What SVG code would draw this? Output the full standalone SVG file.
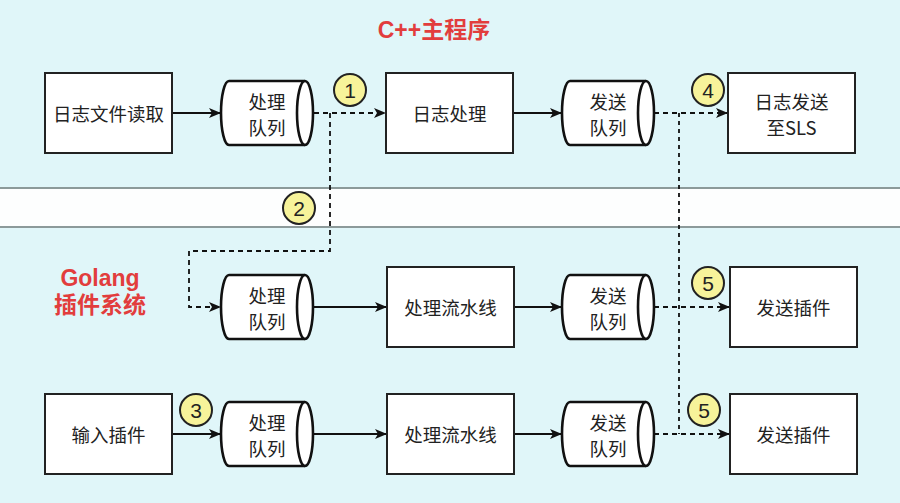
<svg xmlns="http://www.w3.org/2000/svg" width="900" height="503" viewBox="0 0 900 503">
<defs>
<style>
.box{fill:#fff;stroke:#222;stroke-width:2}
.cyl{fill:#fff;stroke:#111;stroke-width:2.6}
.t{font-family:"Noto Sans CJK SC","Liberation Sans",sans-serif;font-size:18.5px;fill:#222;text-anchor:middle;dominant-baseline:central}
.red{font-family:"Liberation Sans","Noto Sans CJK SC",sans-serif;font-weight:bold;font-size:23px;fill:#e23d3d;text-anchor:middle;dominant-baseline:central}
.c{fill:#f7f39a;stroke:#222;stroke-width:2}
.n{font-family:"Liberation Sans",Arial,sans-serif;font-size:21px;fill:#222;text-anchor:middle;dominant-baseline:central}
.solid{fill:none;stroke:#111;stroke-width:1.8}
.dash{fill:none;stroke:#111;stroke-width:1.8;stroke-dasharray:5 4}
.dot{fill:none;stroke:#111;stroke-width:1.8;stroke-dasharray:4 4}
</style>
<marker id="ah" viewBox="0 0 12 10" refX="11" refY="5" markerWidth="12" markerHeight="10" markerUnits="userSpaceOnUse" orient="auto">
<path d="M0,0 L12,5 L0,10 L3,5 Z" fill="#111"/>
</marker>
</defs>
<rect width="900" height="503" fill="#e0f6f9"/>
<rect x="0" y="188" width="900" height="39" fill="#fdfefe"/>
<line x1="0" y1="188" x2="900" y2="188" stroke="#8c9a9a" stroke-width="2"/>
<line x1="0" y1="227" x2="900" y2="227" stroke="#8c9a9a" stroke-width="2"/>

<text class="red" x="434" y="30">C++主程序</text>
<text class="red" x="100" y="278">Golang</text>
<text class="red" x="100" y="305">插件系统</text>

<g id="connectors">
<line class="solid" x1="172" y1="113" x2="220" y2="113" marker-end="url(#ah)"/>
<line class="dash" x1="314" y1="113" x2="385" y2="113" marker-end="url(#ah)"/>
<line class="solid" x1="513" y1="113" x2="561" y2="113" marker-end="url(#ah)"/>
<line class="dash" x1="654" y1="113" x2="727" y2="113" marker-end="url(#ah)"/>
<polyline class="dash" points="330,113 330,251 189,251 189,307 220,307" marker-end="url(#ah)"/>
<line class="solid" x1="314" y1="307" x2="386" y2="307" marker-end="url(#ah)"/>
<line class="solid" x1="514" y1="307" x2="561" y2="307" marker-end="url(#ah)"/>
<line class="dash" x1="654" y1="307" x2="729" y2="307" marker-end="url(#ah)"/>
<line class="solid" x1="172" y1="434" x2="220" y2="434" marker-end="url(#ah)"/>
<line class="solid" x1="314" y1="434" x2="386" y2="434" marker-end="url(#ah)"/>
<line class="solid" x1="514" y1="434" x2="561" y2="434" marker-end="url(#ah)"/>
<line class="dash" x1="654" y1="434" x2="729" y2="434" marker-end="url(#ah)"/>
<line class="dot" x1="679" y1="113" x2="679" y2="434"/>
</g>

<g id="n-read"><rect class="box" x="45" y="73" width="127" height="80"/><text class="t" x="108.5" y="113">日志文件读取</text></g>
<g id="q-proc1"><path class="cyl" d="M229,81 H305 A8,32 0 0 1 305,145 H229 A8,32 0 0 1 229,81 Z"/><path class="cyl" d="M305,81 A8,32 0 0 0 305,145"/><text class="t" x="267" y="101">处理</text><text class="t" x="267" y="127">队列</text></g>
<g id="n-proc"><rect class="box" x="386" y="73" width="127" height="80"/><text class="t" x="449.5" y="113">日志处理</text></g>
<g id="q-send1"><path class="cyl" d="M570,81 H646 A8,32 0 0 1 646,145 H570 A8,32 0 0 1 570,81 Z"/><path class="cyl" d="M646,81 A8,32 0 0 0 646,145"/><text class="t" x="608" y="101">发送</text><text class="t" x="608" y="127">队列</text></g>
<g id="n-sls"><rect class="box" x="728" y="73" width="127" height="80"/><text class="t" x="791.5" y="101">日志发送</text><text class="t" x="791.5" y="127">至SLS</text></g>

<g id="q-proc2"><path class="cyl" d="M229,275 H305 A8,32 0 0 1 305,339 H229 A8,32 0 0 1 229,275 Z"/><path class="cyl" d="M305,275 A8,32 0 0 0 305,339"/><text class="t" x="267" y="295">处理</text><text class="t" x="267" y="321">队列</text></g>
<g id="n-pipe1"><rect class="box" x="387" y="267" width="127" height="80"/><text class="t" x="450.5" y="307">处理流水线</text></g>
<g id="q-send2"><path class="cyl" d="M570,275 H646 A8,32 0 0 1 646,339 H570 A8,32 0 0 1 570,275 Z"/><path class="cyl" d="M646,275 A8,32 0 0 0 646,339"/><text class="t" x="608" y="295">发送</text><text class="t" x="608" y="321">队列</text></g>
<g id="n-out1"><rect class="box" x="730" y="267" width="127" height="80"/><text class="t" x="793.5" y="307">发送插件</text></g>

<g id="n-input"><rect class="box" x="45" y="394" width="127" height="80"/><text class="t" x="108.5" y="434">输入插件</text></g>
<g id="q-proc3"><path class="cyl" d="M229,402 H305 A8,32 0 0 1 305,466 H229 A8,32 0 0 1 229,402 Z"/><path class="cyl" d="M305,402 A8,32 0 0 0 305,466"/><text class="t" x="267" y="422">处理</text><text class="t" x="267" y="448">队列</text></g>
<g id="n-pipe2"><rect class="box" x="387" y="394" width="127" height="80"/><text class="t" x="450.5" y="434">处理流水线</text></g>
<g id="q-send3"><path class="cyl" d="M570,402 H646 A8,32 0 0 1 646,466 H570 A8,32 0 0 1 570,402 Z"/><path class="cyl" d="M646,402 A8,32 0 0 0 646,466"/><text class="t" x="608" y="422">发送</text><text class="t" x="608" y="448">队列</text></g>
<g id="n-out2"><rect class="box" x="730" y="394" width="127" height="80"/><text class="t" x="793.5" y="434">发送插件</text></g>

<g id="b1"><circle class="c" cx="350" cy="90" r="16"/><text class="n" x="350" y="90">1</text></g>
<g id="b2"><circle class="c" cx="299" cy="208" r="16"/><text class="n" x="299" y="208">2</text></g>
<g id="b3"><circle class="c" cx="196" cy="410" r="16"/><text class="n" x="196" y="410">3</text></g>
<g id="b4"><circle class="c" cx="708" cy="90" r="16"/><text class="n" x="708" y="90">4</text></g>
<g id="b5a"><circle class="c" cx="708" cy="283" r="16"/><text class="n" x="708" y="283">5</text></g>
<g id="b5b"><circle class="c" cx="704" cy="410" r="16"/><text class="n" x="704" y="410">5</text></g>
</svg>
